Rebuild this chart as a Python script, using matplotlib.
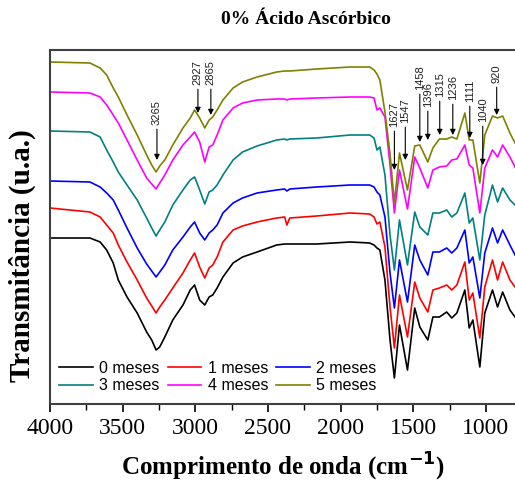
import numpy as np
import matplotlib
matplotlib.use('Agg')
import matplotlib.pyplot as plt

# wavenumber grid (cm-1)
wn = [4000, 3725, 3655, 3610, 3565, 3530, 3470, 3400, 3335, 3300,
      3270, 3245, 3210, 3155, 3085, 3035, 3005, 2970, 2935, 2905,
      2880, 2850, 2810, 2740, 2675, 2575, 2440, 2385, 2370, 2350,
      2165, 1935, 1800, 1770, 1750, 1730,
      1695, 1660, 1630, 1595, 1540, 1490, 1455, 1400, 1365, 1320,
      1270, 1235, 1200, 1145, 1115, 1090, 1042, 1008, 955, 920,
      885, 835, 800]

# transmittance (u.a.), curves already stacked
m0 = [166, 166, 162, 154, 141, 124, 107, 91, 72, 64,
      54, 57, 67, 84, 99, 114, 119, 104, 99, 107,
      109, 116, 127, 141, 147, 152, 159, 160, 160, 160,
      160, 162, 161, 159, 156, 154,
      124, 64, 26, 79, 34, 96, 77, 64, 87, 87,
      92, 86, 91, 114, 76, 84, 37, 91, 114, 97,
      112, 94, 87]
m1 = [196, 192, 187, 179, 171, 159, 142, 124, 106, 98,
      91, 97, 104, 116, 131, 144, 151, 137, 126, 136,
      139, 147, 162, 174, 178, 182, 186, 187, 179, 186,
      188, 191, 190, 187, 180, 182,
      157, 97, 56, 109, 67, 122, 106, 92, 114, 116,
      119, 114, 119, 142, 104, 111, 66, 117, 144, 124,
      142, 124, 117]
m2 = [223, 222, 217, 211, 204, 194, 176, 156, 140, 133,
      127, 132, 139, 154, 167, 177, 182, 171, 164, 171,
      174, 179, 191, 201, 206, 211, 214, 215, 213, 215,
      217, 219, 219, 217, 212, 209,
      187, 131, 96, 144, 102, 159, 144, 129, 152, 152,
      156, 151, 156, 174, 141, 147, 106, 151, 176, 161,
      174, 159, 149]
m3 = [273, 272, 267, 254, 242, 232, 219, 204, 186, 176,
      168, 174, 182, 199, 214, 224, 227, 214, 200, 212,
      214, 219, 229, 244, 252, 258, 264, 265, 264, 265,
      266, 269, 269, 266, 254, 257,
      229, 169, 134, 184, 139, 192, 177, 169, 191, 191,
      194, 187, 191, 211, 181, 186, 144, 189, 219, 202,
      216, 204, 199]
m4 = [312, 311, 307, 299, 289, 281, 264, 244, 226, 220,
      215, 221, 229, 244, 259, 267, 272, 262, 242, 257,
      259, 269, 284, 296, 301, 304, 305, 305, 304, 305,
      306, 307, 307, 306, 294, 296,
      287, 239, 191, 234, 195, 247, 236, 216, 234, 237,
      238, 244, 245, 259, 239, 236, 191, 236, 254, 247,
      259, 247, 237]
m5 = [342, 341, 336, 329, 316, 307, 289, 269, 249, 239,
      232, 238, 244, 259, 276, 286, 294, 286, 276, 284,
      287, 294, 304, 316, 322, 327, 332, 333, 333, 333,
      335, 337, 337, 334, 330, 324,
      292, 250, 201, 251, 214, 258, 259, 242, 256, 265,
      265, 267, 265, 291, 264, 264, 221, 269, 288, 286,
      288, 271, 261]

labels = ['0 meses', '1 meses', '2 meses', '3 meses', '4 meses', '5 meses']
cores = ['black', 'red', 'blue', '#008080', 'magenta', '#808000']

# band labels: text, arrow position, arrow tip, text base
picos = ['3265', '2927', '2865', '1627', '1547', '1458', '1396', '1315', '1236', '1111', '1040', '920']
pico_x = [3264, 2982, 2893, 1630, 1555, 1455, 1400, 1318, 1228, 1111, 1022, 926]
pico_tip = [244, 291, 289, 234, 244, 262, 264, 269, 269, 266, 239, 289]
pico_txt = [279, 319, 319, 277, 281, 314, 297, 307, 304, 302, 282, 321]

fig = plt.figure(figsize=(5.15, 4.9), dpi=100)
ax = fig.add_axes([50/515, 86/490, 465/515, 354/490])

linhas = []
for y, c, l in zip([m0, m1, m2, m3, m4, m5], cores, labels):
    linhas += ax.plot(wn, y, color=c, lw=1.2, label=l)

for t, x, yt, ytx in zip(picos, pico_x, pico_tip, pico_txt):
    ax.annotate(t, xy=(x, yt), xytext=(x, ytx), rotation=90, ha='center', va='bottom',
                fontsize=8, family='Liberation Sans', color='#202020',
                arrowprops=dict(arrowstyle='-|>', color='black', lw=0.8,
                                mutation_scale=8, shrinkA=1, shrinkB=0))

ax.set_xlim(4000, 800)
ax.set_ylim(0, 354)
ax.set_xticks([4000, 3500, 3000, 2500, 2000, 1500, 1000])
ax.set_xticks(np.arange(3750, 800, -500), minor=True)
ax.set_yticks([])
ax.tick_params(axis='x', which='major', direction='out', length=6, width=1.2,
               labelsize=17, pad=4)
ax.tick_params(axis='x', which='minor', direction='out', length=4, width=1.0)
for lab in ax.get_xticklabels():
    lab.set_family('Liberation Serif')
for s in ax.spines.values():
    s.set_color('#404040')
    s.set_linewidth(1.5)
ax.spines['right'].set_visible(False)

ax.set_xlabel('Comprimento de onda (cm$^{\\mathbf{-1}}$)', fontsize=18, fontweight='bold',
              family='Liberation Serif', labelpad=9)
ax.set_ylabel('Transmitância (u.a.)', fontsize=21, fontweight='bold',
              family='Liberation Serif')
ax.yaxis.set_label_coords(-0.03, 0.42)
fig.text(0.594, 0.961, '0% Ácido Ascórbico', ha='center', va='center', fontsize=14,
         fontweight='bold', family='Liberation Serif')

# legend filled row by row: 0 1 2 / 3 4 5
ordem = [0, 3, 1, 4, 2, 5]
ax.legend([linhas[i] for i in ordem], [labels[i] for i in ordem],
          loc='lower left', bbox_to_anchor=(0.02, 0.03), ncol=3, frameon=False,
          prop={'family': 'Liberation Sans', 'size': 11.5}, handlelength=2.1,
          handletextpad=0.4, columnspacing=0.5, labelspacing=0.15,
          borderaxespad=0, borderpad=0)

fig.savefig('out.png', dpi=100)
